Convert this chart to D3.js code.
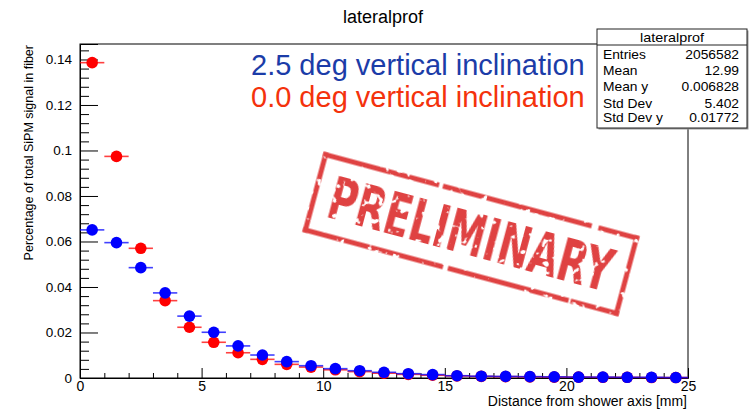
<!DOCTYPE html>
<html>
<head>
<meta charset="utf-8">
<script src="https://cdn.jsdelivr.net/npm/d3@7/dist/d3.min.js"></script>
<style>
  html, body { margin: 0; padding: 0; background: #fff; }
  svg { display: block; font-family: "Liberation Sans", Arial, sans-serif; }
</style>
</head>
<body>
<svg id="chart" width="750" height="412"></svg>
<script>
// Lateral profile: fraction of total SiPM signal per 1 mm bin of distance from the shower axis
const binCentres = [0.5, 1.5, 2.5, 3.5, 4.5, 5.5, 6.5, 7.5, 8.5, 9.5, 10.5, 11.5, 12.5,
                    13.5, 14.5, 15.5, 16.5, 17.5, 18.5, 19.5, 20.5, 21.5, 22.5, 23.5, 24.5];
const binHalfWidth = 0.5;

// 0.0 deg vertical inclination
const flatValues = [0.1386, 0.0974, 0.0570, 0.0340, 0.0223, 0.0157, 0.0111, 0.0082, 0.0060,
                    0.0048, 0.0036, 0.0028, 0.0021, 0.0016, 0.0012, 0.0009, 0.0007, 0.0006,
                    0.0005, 0.0004, 0.0004, 0.0003, 0.0003, 0.0002, 0.0002];
// 2.5 deg vertical inclination
const tiltedValues = [0.0651, 0.0595, 0.0485, 0.0374, 0.0272, 0.0201, 0.0141, 0.0101, 0.0072,
                      0.0054, 0.0041, 0.0032, 0.0025, 0.0019, 0.0015, 0.0010, 0.0008, 0.0007,
                      0.0006, 0.0005, 0.0004, 0.0004, 0.0003, 0.0003, 0.0002];

const seriesLabels = ["2.5 deg vertical inclination", "0.0 deg vertical inclination"];

const xMajorTicks = [0, 5, 10, 15, 20, 25];
const xMinorTicks = [1, 2, 3, 4, 6, 7, 8, 9, 11, 12, 13, 14, 16, 17, 18, 19, 21, 22, 23, 24];
const yMajorTicks = [0, 0.02, 0.04, 0.06, 0.08, 0.1, 0.12, 0.14];
const yMinorTicks = [0.004, 0.008, 0.012, 0.016, 0.024, 0.028, 0.032, 0.036, 0.044, 0.048,
                     0.052, 0.056, 0.064, 0.068, 0.072, 0.076, 0.084, 0.088, 0.092, 0.096,
                     0.104, 0.108, 0.112, 0.116, 0.124, 0.128, 0.132, 0.136, 0.144];

const statsTitle = "lateralprof";
const statsNames = ["Entries", "Mean", "Mean y", "Std Dev", "Std Dev y"];
const statsValues = ["2056582", "12.99", "0.006828", "5.402", "0.01772"];

const svg = d3.select("#chart");
const frame = { left: 80, right: 688, top: 44, bottom: 378 };

const x = d3.scaleLinear().domain([0, 25]).range([frame.left, frame.right]);
const y = d3.scaleLinear().domain([0, 0.1468]).range([frame.bottom, frame.top]);

// Title
svg.append("text")
  .attr("x", 383).attr("y", 23)
  .attr("text-anchor", "middle")
  .attr("font-size", 18)
  .text(statsTitle);

// Frame (top and right edges)
svg.append("rect")
  .attr("x", frame.left).attr("y", frame.top)
  .attr("width", frame.right - frame.left).attr("height", frame.bottom - frame.top)
  .attr("fill", "none").attr("stroke", "#000").attr("stroke-width", 1);

// Y axis: major ticks with labels, pointing into the frame
const yAxis = svg.append("g")
  .attr("transform", `translate(${frame.left},0)`)
  .call(d3.axisLeft(y).tickValues(yMajorTicks).tickSize(-18).tickPadding(8)
        .tickFormat(d => d === 0 ? "0" : String(+d.toFixed(2))));
yAxis.select(".domain").attr("stroke", "#000");
yAxis.selectAll("text").attr("font-size", 13.5).attr("font-family", "Liberation Sans, Arial, sans-serif").attr("fill", "#000");
svg.append("g")
  .attr("transform", `translate(${frame.left},0)`)
  .call(d3.axisLeft(y).tickValues(yMinorTicks).tickSize(-9).tickFormat(""))
  .select(".domain").remove();

// X axis: major ticks with labels, pointing up into the frame
const xAxis = svg.append("g")
  .attr("transform", `translate(0,${frame.bottom})`)
  .call(d3.axisBottom(x).tickValues(xMajorTicks).tickSize(-10).tickPadding(3)
        .tickFormat(d3.format("d")));
xAxis.select(".domain").attr("stroke", "#000");
xAxis.selectAll("text").attr("font-size", 14).attr("font-family", "Liberation Sans, Arial, sans-serif").attr("fill", "#000");
svg.append("g")
  .attr("transform", `translate(0,${frame.bottom})`)
  .call(d3.axisBottom(x).tickValues(xMinorTicks).tickSize(-5).tickFormat(""))
  .select(".domain").remove();

// Axis titles
svg.append("text")
  .attr("transform", "translate(32.5,45) rotate(-90)")
  .attr("text-anchor", "end")
  .attr("font-size", 12.5)
  .text("Percentage of total SiPM signal in fiber");
svg.append("text")
  .attr("x", 687).attr("y", 406)
  .attr("text-anchor", "end")
  .attr("font-size", 14)
  .text("Distance from shower axis [mm]");

// Data: horizontal bin-width bars plus filled circle markers
function drawSeries(values, colour, cls) {
  const g = svg.append("g").attr("class", cls);
  const pts = binCentres.map((c, i) => ({ c, v: values[i] }));
  g.selectAll("line").data(pts).join("line")
    .attr("x1", d => x(d.c - binHalfWidth)).attr("x2", d => x(d.c + binHalfWidth))
    .attr("y1", d => y(d.v)).attr("y2", d => y(d.v))
    .attr("stroke", colour).attr("stroke-width", 1.6).attr("stroke-opacity", 0.75);
  g.selectAll("circle").data(pts).join("circle")
    .attr("cx", d => x(d.c)).attr("cy", d => y(d.v)).attr("r", 5.8)
    .attr("fill", colour);
}
drawSeries(flatValues, "#ff0000", "flat");
drawSeries(tiltedValues, "#0000ff", "tilted");

// Legend text
const legendColours = ["#1b3ca8", "#f4320c"];
svg.selectAll("text.legend").data(seriesLabels).join("text")
  .attr("class", "legend")
  .attr("x", 251).attr("y", (d, i) => 75 + i * 32)
  .attr("font-size", 29)
  .attr("fill", (d, i) => legendColours[i])
  .text(d => d);

// Stats box
const sb = { x: 597, y: 29, w: 150, h: 99 };
svg.append("rect")
  .attr("x", sb.x + 1.5).attr("y", sb.y + 1.5).attr("width", sb.w).attr("height", sb.h)
  .attr("fill", "#999");
svg.append("rect")
  .attr("x", sb.x).attr("y", sb.y).attr("width", sb.w).attr("height", sb.h)
  .attr("fill", "#fff").attr("stroke", "#222").attr("stroke-width", 1);
svg.append("line")
  .attr("x1", sb.x).attr("x2", sb.x + sb.w).attr("y1", 45).attr("y2", 45)
  .attr("stroke", "#222").attr("stroke-width", 1);
// stats text is slightly wide and short, so draw at 12px and stretch horizontally
svg.append("text")
  .attr("transform", `translate(${sb.x + sb.w / 2},41.5) scale(1.15,1)`)
  .attr("text-anchor", "middle").attr("font-size", 12.5)
  .text(statsTitle);
const rowBaselines = [58.5, 74.5, 90.5, 108, 122];
svg.selectAll("text.sname").data(statsNames).join("text")
  .attr("class", "sname")
  .attr("transform", (d, i) => `translate(603,${rowBaselines[i]}) scale(1.15,1)`)
  .attr("font-size", 12).text(d => d);
svg.selectAll("text.sval").data(statsValues).join("text")
  .attr("class", "sval")
  .attr("transform", (d, i) => `translate(739,${rowBaselines[i]}) scale(1.15,1)`)
  .attr("text-anchor", "end").attr("font-size", 12).text(d => d);

// "PRELIMINARY" rubber stamp
const defs = svg.append("defs");
const f = defs.append("filter").attr("id", "grunge")
  .attr("x", "-10%").attr("y", "-10%").attr("width", "120%").attr("height", "120%");
f.append("feTurbulence").attr("type", "fractalNoise").attr("baseFrequency", 0.13)
  .attr("numOctaves", 2).attr("seed", 7).attr("result", "noise");
f.append("feColorMatrix").attr("in", "noise").attr("type", "matrix")
  .attr("values", "0 0 0 0 0  0 0 0 0 0  0 0 0 0 0  -16 0 0 0 11.2").attr("result", "mask");
f.append("feComposite").attr("in", "SourceGraphic").attr("in2", "mask").attr("operator", "in");

const stampColour = "#df4242";
const stamp = svg.append("g")
  .attr("transform", "translate(471,234) rotate(15)")
  .attr("filter", "url(#grunge)");
const bw = 322, bh = 78;
const edges = [
  { x1: -bw / 2, y1: -bh / 2, x2: bw / 2, y2: -bh / 2, dash: "70 5 40 9 55 4 90 12 60" },
  { x1: bw / 2, y1: -bh / 2, x2: bw / 2, y2: bh / 2, dash: "30 4 60" },
  { x1: bw / 2, y1: bh / 2, x2: -bw / 2, y2: bh / 2, dash: "45 7 80 5 35 10 70 6 80" },
  { x1: -bw / 2, y1: bh / 2, x2: -bw / 2, y2: -bh / 2, dash: "50 3 40" }
];
stamp.selectAll("line").data(edges).join("line")
  .attr("x1", d => d.x1).attr("y1", d => d.y1).attr("x2", d => d.x2).attr("y2", d => d.y2)
  .attr("stroke", stampColour).attr("stroke-width", 5)
  .attr("stroke-dasharray", d => d.dash).attr("stroke-linecap", "square");
stamp.append("text")
  .attr("x", 0).attr("y", 21)
  .attr("text-anchor", "middle")
  .attr("font-family", "DejaVu Sans Condensed, DejaVu Sans, sans-serif")
  .attr("font-weight", "bold")
  .attr("font-size", 58)
  .attr("textLength", 292).attr("lengthAdjust", "spacingAndGlyphs")
  .attr("fill", stampColour)
  .text("PRELIMINARY");
</script>
</body>
</html>
